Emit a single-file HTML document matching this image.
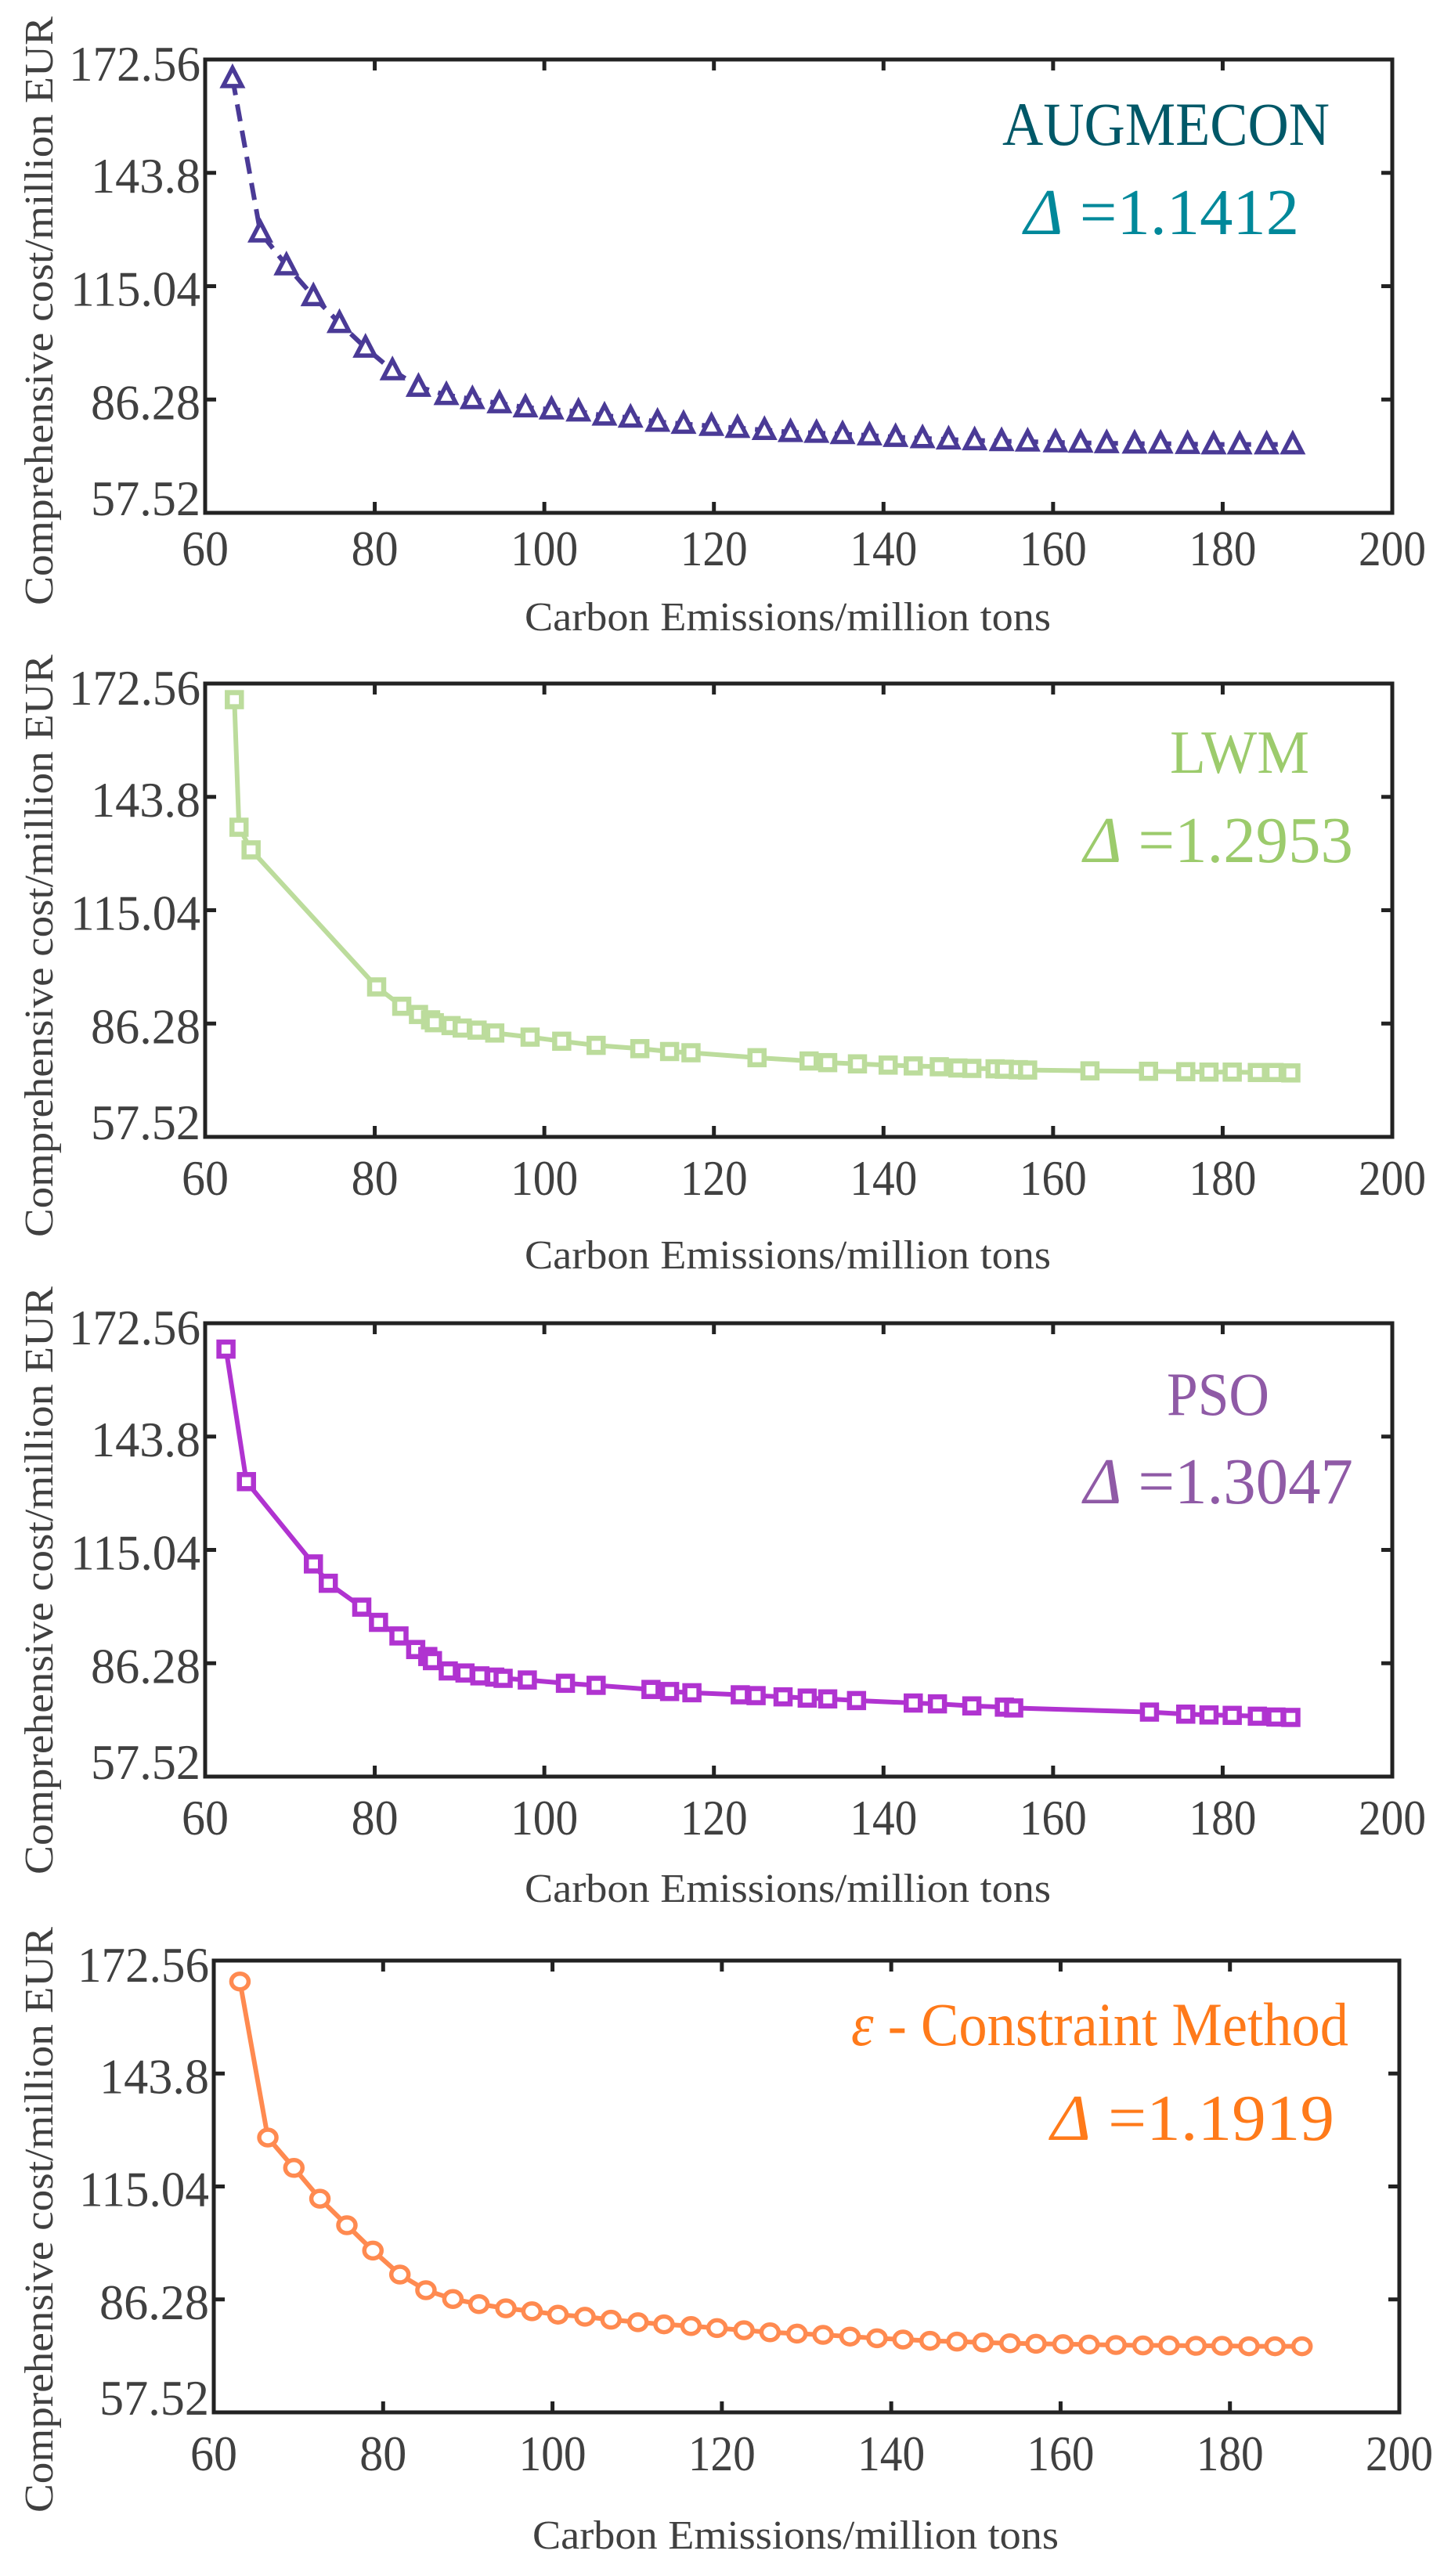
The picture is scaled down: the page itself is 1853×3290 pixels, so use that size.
<!DOCTYPE html>
<html><head><meta charset="utf-8"><style>html,body{margin:0;padding:0;background:#fff}svg{display:block}</style></head>
<body>
<svg id="s" xmlns="http://www.w3.org/2000/svg" width="1853" height="3290" viewBox="0 0 1853 3290" font-family="Liberation Serif, serif"></svg>
<script>
const S=document.getElementById('s');let h='';
function T(x,y,s,fs,col,len,anchor,extra){h+=`<text x="${x}" y="${y}" font-size="${fs}" fill="${col}" text-anchor="${anchor||'start'}" ${len?`textLength="${len}" lengthAdjust="spacingAndGlyphs"`:''} ${extra||''}>${s}</text>`;}
const panels=[
 {L:262,R:1778,Tp:76,B:655,xtb:722,xl:805,yl:[21,773],
  name:'AUGMECON',nc:'#005868',nx:1280,nw:418,ny:185,dc:'#00889a',d:'=1.1412',dx:1308,dw:351,dy:299,
  col:'#4a3a96',mk:'tri',dash:true,zy:0,fy:0.5256,
  pts:(()=>{const xs=[250,280,308,337,365,393,422,450,480,508,537,565,593,622,650,678,707,735,765,793,822,850,878,906,935,963,992,1020,1048,1077,1105,1135,1162,1190,1220,1248,1277,1305,1333,1362,1390];
   const ys=[190,565,645,720,785,845,900,940,960,970,980,990,995,1000,1010,1015,1025,1030,1035,1040,1045,1050,1052,1055,1058,1062,1065,1068,1070,1072,1073,1075,1076,1077,1078,1078,1079,1080,1080,1080,1080];return xs.map((x,i)=>[x,ys[i]]);})()},
 {L:262,R:1778,Tp:873,B:1452,xtb:1526,xl:1620,yl:[836,1580],
  name:'LWM',nc:'#9ccb6c',nx:1494,nw:178,ny:987,dc:'#9ccb6c',d:'=1.2953',dx:1384,dw:344,dy:1101,
  col:'#bcdc9c',mk:'sq',zy:820,fy:0.5256,
  pts:[[252,140],[257,450],[270,505],[405,838],[432,885],[450,905],[463,918],[467,925],[485,932],[497,938],[513,943],[532,950],[570,960],[604,970],[641,980],[688,988],[720,995],[743,998],[814,1010],[870,1018],[890,1022],[922,1025],[955,1028],[982,1030],[1010,1032],[1030,1035],[1045,1036],[1070,1037],[1080,1038],[1095,1039],[1105,1040],[1172,1042],[1235,1043],[1275,1044],[1300,1045],[1325,1045],[1352,1046],[1370,1046],[1388,1047]]},
 {L:262,R:1778,Tp:1690,B:2269,xtb:2343,xl:2429,yl:[1643,2394],
  name:'PSO',nc:'#8f5aa6',nx:1490,nw:131,ny:1807,dc:'#8f5aa6',d:'=1.3047',dx:1384,dw:344,dy:1920,
  col:'#b033d0',mk:'sq',zy:1640,fy:0.5256,
  pts:[[243,158],[265,480],[337,680],[353,727],[389,785],[407,822],[429,855],[447,888],[460,905],[465,915],[482,940],[500,945],[516,952],[532,955],[541,958],[567,962],[608,970],[641,975],[700,985],[720,990],[744,993],[796,998],[813,1000],[842,1003],[868,1006],[890,1008],[921,1012],[982,1018],[1008,1020],[1045,1025],[1080,1028],[1090,1030],[1236,1040],[1275,1045],[1300,1047],[1325,1048],[1352,1050],[1372,1052],[1388,1053]]},
 {L:273,R:1787,Tp:2504,B:3081,xtb:3155,xl:3255,yl:[2461,3209],
  name:null,nc:'#ff7a1a',dc:'#ff7a1a',d:'=1.1919',dx:1342,dw:362,dy:2733,
  col:'#ff8a50',mk:'circ',zy:2450,fy:0.5385,
  pts:(()=>{const xs=[258,288,316,344,373,401,430,458,487,515,544,572,600,629,657,686,714,743,771,800,828,857,885,914,943,971,1000,1029,1057,1086,1114,1143,1171,1200,1229,1257,1286,1314,1343,1371,1400];
   const ys=[150,520,592,665,728,788,845,882,903,915,925,932,940,945,952,958,963,967,972,977,982,985,988,992,996,999,1002,1004,1006,1008,1009,1010,1011,1012,1013,1013,1014,1014,1015,1015,1015];return xs.map((x,i)=>[x,ys[i]]);})()}
];
const yt=['172.56','143.8','115.04','86.28','57.52'];
const ytw=[168,140,166,140,140];
for(const p of panels){
 const W=p.R-p.L,H=p.B-p.Tp;
 for(let i=0;i<=7;i++){const x=p.L+W*i/7;h+=`<line x1="${x}" y1="${p.Tp}" x2="${x}" y2="${p.Tp+14}" stroke="#222" stroke-width="5"/><line x1="${x}" y1="${p.B}" x2="${x}" y2="${p.B-14}" stroke="#222" stroke-width="5"/>`;
  const lab=String(60+20*i);T(x,p.xtb,lab,64,'#404040',lab.length==2?60:86,'middle');}
 for(let i=0;i<5;i++){const y=p.Tp+H*i/4;h+=`<line x1="${p.L}" y1="${y}" x2="${p.L+14}" y2="${y}" stroke="#222" stroke-width="5"/><line x1="${p.R}" y1="${y}" x2="${p.R-14}" y2="${y}" stroke="#222" stroke-width="5"/>`;
  const off=i==0?27:(i==4?3:25);T(p.L-6,y+off,yt[i],64,'#404040',ytw[i],'end');}
 h+=`<rect x="${p.L}" y="${p.Tp}" width="${W}" height="${H}" fill="none" stroke="#222" stroke-width="5"/>`;
 T((p.L+p.R)/2-14,p.xl,'Carbon Emissions/million tons',52,'#404040',672,'middle');
 const cy=(p.yl[0]+p.yl[1])/2;
 h+=`<text transform="translate(67,${cy}) rotate(-90)" font-size="52" fill="#404040" text-anchor="middle" textLength="${p.yl[1]-p.yl[0]}" lengthAdjust="spacingAndGlyphs">Comprehensive  cost/million EUR</text>`;
 if(p.name)T(p.nx,p.ny,p.name,78,p.nc,p.nw);
 else{T(1087,2612,'<tspan font-style="italic">ε</tspan> - Constraint Method',78,p.nc,635);}
 T(p.dx,p.dy,`<tspan font-style="italic">Δ</tspan> ${p.d}`,84,p.dc,p.dw);
 const P=p.pts.map(([x,y])=>[x/0.842,p.zy+y*p.fy]);
 h+=`<polyline points="${P.map(a=>a.join(',')).join(' ')}" fill="none" stroke="${p.col}" stroke-width="6" ${p.dash?'stroke-dasharray="22,12"':''} stroke-linejoin="round"/>`;
 for(const [x,y] of P){
  if(p.mk=='tri')h+=`<polygon points="${x},${y-13} ${x-12},${y+10} ${x+12},${y+10}" fill="#fff" stroke="${p.col}" stroke-width="5.5"/>`;
  else if(p.mk=='sq')h+=`<rect x="${x-9}" y="${y-9}" width="18" height="18" fill="#fff" stroke="${p.col}" stroke-width="6.5"/>`;
  else h+=`<ellipse cx="${x}" cy="${y}" rx="11" ry="10" fill="#fff" stroke="${p.col}" stroke-width="5.5"/>`;
 }
}
S.innerHTML=h;
</script>
</body></html>
